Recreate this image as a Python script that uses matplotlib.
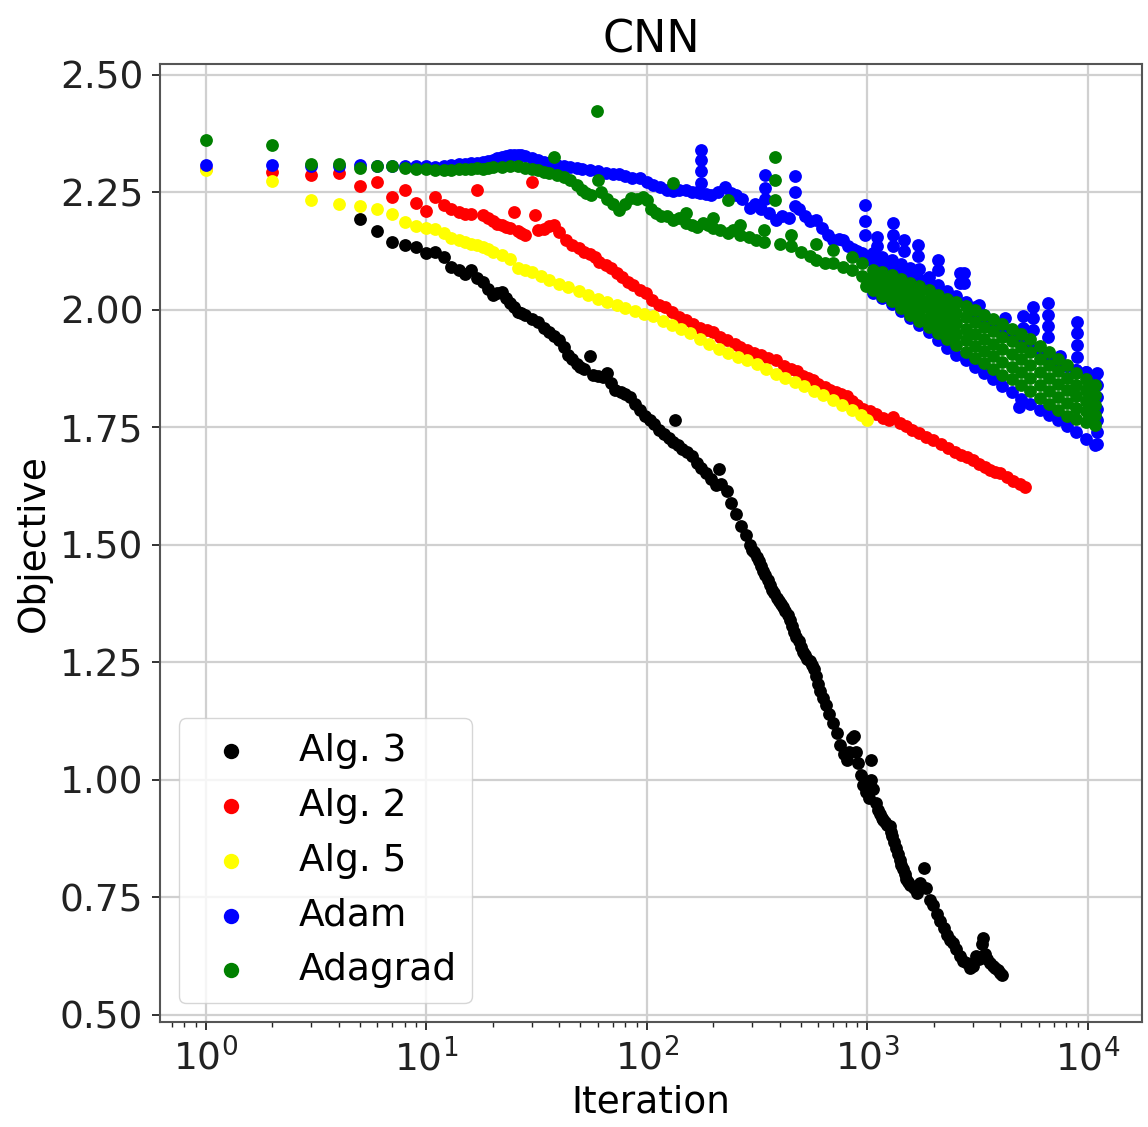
import matplotlib.pyplot as plt

# (iteration, objective) pairs
alg3 = [(5, 2.193), (6, 2.167), (7, 2.145), (8, 2.138), (9, 2.133), (10, 2.121), (11, 2.122),
        (12, 2.113), (13, 2.092), (14, 2.085), (15, 2.077), (16, 2.085), (17, 2.068), (18, 2.060),
        (19, 2.045), (20, 2.032), (21, 2.036), (22, 2.039), (23, 2.025), (24, 2.014), (25, 2.005),
        (26, 1.995), (27, 1.993), (28, 1.990), (30, 1.981), (32, 1.975), (34, 1.962), (36, 1.952),
        (38, 1.945), (40, 1.936), (42, 1.922), (44, 1.905), (46, 1.895), (48, 1.885), (50, 1.879),
        (52, 1.874), (55, 1.901), (57, 1.862), (60, 1.860), (63, 1.858), (66, 1.866), (69, 1.845),
        (72, 1.830), (76, 1.825), (80, 1.820), (84, 1.814), (88, 1.800), (93, 1.787), (98, 1.775),
        (103, 1.766), (108, 1.758), (114, 1.745), (120, 1.735), (126, 1.728), (132, 1.718),
        (134, 1.766), (138, 1.712), (145, 1.704), (152, 1.697), (160, 1.690), (168, 1.675),
        (176, 1.663), (186, 1.652), (196, 1.640), (207, 1.628), (212, 1.662), (218, 1.630),
        (230, 1.614), (242, 1.590), (255, 1.565), (268, 1.540), (281, 1.520), (293, 1.499),
        (300, 1.490), (307, 1.485), (315, 1.475), (322, 1.465), (330, 1.455), (337, 1.445),
        (345, 1.435), (353, 1.425), (362, 1.415), (370, 1.405), (379, 1.397), (388, 1.388),
        (397, 1.381), (406, 1.375), (415, 1.368), (425, 1.360), (435, 1.350), (445, 1.340),
        (455, 1.328), (466, 1.315), (477, 1.305), (488, 1.295), (500, 1.283), (511, 1.272),
        (523, 1.265), (535, 1.258), (548, 1.252), (560, 1.245), (573, 1.235), (586, 1.222),
        (600, 1.205), (613, 1.190), (630, 1.174), (650, 1.160), (672, 1.140), (700, 1.121),
        (725, 1.100), (750, 1.075), (780, 1.055), (805, 1.042), (830, 1.060), (850, 1.090),
        (870, 1.094), (890, 1.060), (910, 1.035), (935, 1.010), (960, 0.990), (990, 0.975),
        (1020, 0.962), (1040, 1.000), (1040, 1.042), (1060, 0.980), (1090, 0.950), (1120, 0.935),
        (1140, 0.928), (1160, 0.920), (1180, 0.915), (1200, 0.910), (1230, 0.905), (1265, 0.901),
        (1280, 0.890), (1300, 0.880), (1325, 0.868), (1350, 0.855), (1375, 0.842), (1400, 0.830),
        (1425, 0.820), (1450, 0.810), (1475, 0.800), (1500, 0.790), (1530, 0.783), (1560, 0.777),
        (1620, 0.770), (1680, 0.760), (1740, 0.780), (1800, 0.813), (1850, 0.770), (1920, 0.745),
        (1988, 0.733), (2060, 0.715), (2140, 0.700), (2220, 0.685), (2300, 0.670), (2380, 0.660),
        (2450, 0.654), (2530, 0.640), (2620, 0.625), (2720, 0.615), (2820, 0.610), (2920, 0.600),
        (3020, 0.605), (3100, 0.625), (3200, 0.620), (3300, 0.650), (3350, 0.663), (3420, 0.630),
        (3500, 0.620), (3600, 0.610), (3700, 0.605), (3800, 0.600), (3900, 0.595), (4000, 0.590),
        (4100, 0.585)]

alg2 = [(1, 2.300), (2, 2.294), (3, 2.287), (4, 2.292), (5, 2.264), (6, 2.271), (7, 2.239),
        (8, 2.254), (9, 2.227), (10, 2.211), (11, 2.239), (12, 2.223), (13, 2.214), (14, 2.209),
        (15, 2.203), (16, 2.204), (17, 2.254), (18, 2.202), (19, 2.195), (20, 2.190), (21, 2.183),
        (22, 2.180), (23, 2.177), (24, 2.174), (25, 2.209), (26, 2.168), (27, 2.163), (28, 2.160),
        (30, 2.273), (31, 2.202), (32, 2.170), (34, 2.172), (36, 2.178), (38, 2.181), (40, 2.165),
        (43, 2.149), (46, 2.138), (49, 2.131), (52, 2.124), (55, 2.118), (58, 2.112), (61, 2.102),
        (65, 2.095), (69, 2.088), (73, 2.078), (77, 2.070), (82, 2.060), (87, 2.053), (93, 2.043),
        (99, 2.035), (106, 2.022), (113, 2.010), (121, 2.005), (130, 1.995), (140, 1.985),
        (150, 1.979), (162, 1.970), (175, 1.962), (188, 1.958), (200, 1.952), (215, 1.942),
        (232, 1.935), (250, 1.928), (265, 1.922), (285, 1.915), (305, 1.908), (330, 1.903),
        (355, 1.898), (386, 1.894), (420, 1.880), (450, 1.875), (478, 1.870), (510, 1.860),
        (540, 1.855), (568, 1.851), (600, 1.843), (640, 1.836), (680, 1.830), (720, 1.825),
        (760, 1.820), (805, 1.816), (850, 1.806), (900, 1.798), (960, 1.790), (1026, 1.784),
        (1100, 1.778), (1180, 1.770), (1260, 1.765), (1310, 1.772), (1400, 1.759), (1500, 1.752),
        (1600, 1.745), (1720, 1.737), (1850, 1.730), (1990, 1.723), (2150, 1.715), (2320, 1.706),
        (2500, 1.698), (2650, 1.692), (2820, 1.688), (3000, 1.680), (3200, 1.672), (3400, 1.665),
        (3600, 1.660), (3800, 1.655), (4000, 1.652), (4300, 1.644), (4600, 1.636), (4900, 1.630),
        (5180, 1.624)]

alg5 = [(1, 2.298), (2, 2.275), (3, 2.234), (4, 2.225), (5, 2.220), (6, 2.215), (7, 2.204),
        (8, 2.186), (9, 2.179), (10, 2.174), (11, 2.172), (12, 2.163), (13, 2.153), (14, 2.149),
        (15, 2.145), (16, 2.141), (17, 2.138), (18, 2.134), (19, 2.130), (20, 2.124), (22, 2.116),
        (24, 2.108), (26, 2.089), (28, 2.085), (30, 2.080), (33, 2.071), (36, 2.064), (40, 2.056),
        (44, 2.048), (49, 2.040), (54, 2.032), (60, 2.023), (66, 2.016), (73, 2.011), (80, 2.004),
        (88, 1.998), (97, 1.991), (107, 1.986), (118, 1.976), (130, 1.967), (143, 1.959),
        (157, 1.950), (174, 1.938), (192, 1.928), (212, 1.917), (234, 1.908), (258, 1.900),
        (285, 1.894), (315, 1.885), (348, 1.874), (384, 1.864), (424, 1.854), (468, 1.846),
        (516, 1.838), (570, 1.828), (630, 1.818), (700, 1.809), (770, 1.798), (850, 1.786),
        (935, 1.776), (1000, 1.766)]

adam = [(1, 2.309), (2, 2.309), (3, 2.305), (4, 2.305), (5, 2.309), (6, 2.306), (7, 2.306),
        (8, 2.305), (9, 2.307), (10, 2.305), (11, 2.304), (12, 2.306), (13, 2.308), (14, 2.310),
        (15, 2.311), (16, 2.312), (17, 2.313), (18, 2.315), (19, 2.316), (20, 2.318), (21, 2.322),
        (22, 2.325), (23, 2.328), (24, 2.330), (25, 2.330), (26, 2.330), (27, 2.329), (28, 2.327),
        (30, 2.322), (32, 2.318), (34, 2.315), (36, 2.312), (39, 2.309), (42, 2.306), (45, 2.304),
        (48, 2.302), (51, 2.300), (55, 2.298), (60, 2.295), (65, 2.292), (70, 2.290), (75, 2.288),
        (80, 2.284), (86, 2.281), (93, 2.280), (100, 2.273), (107, 2.266), (115, 2.262),
        (123, 2.256), (131, 2.252), (140, 2.255), (150, 2.255), (160, 2.250), (168, 2.250),
        (174, 2.248), (176, 2.270), (176, 2.295), (176, 2.318), (176, 2.340), (185, 2.246),
        (196, 2.244), (210, 2.250), (226, 2.262), (240, 2.248), (255, 2.245), (270, 2.235),
        (293, 2.216), (310, 2.225), (330, 2.215), (343, 2.235), (343, 2.260), (343, 2.287),
        (360, 2.205), (386, 2.191), (410, 2.200), (440, 2.195), (469, 2.220), (469, 2.250),
        (469, 2.284), (490, 2.215), (520, 2.200), (550, 2.190), (586, 2.191), (620, 2.175),
        (660, 2.160), (700, 2.149), (740, 2.150), (778, 2.149), (820, 2.135), (860, 2.130),
        (900, 2.125), (945, 2.120), (975, 2.160), (975, 2.190), (975, 2.223), (1000, 2.113),
        (1110, 2.156), (1110, 2.135), (1310, 2.184), (1310, 2.160), (1310, 2.135), (1470, 2.149),
        (1470, 2.125), (1700, 2.138), (1700, 2.115), (2090, 2.106), (2090, 2.085), (2640, 2.078),
        (2640, 2.058), (2750, 2.078), (2750, 2.058), (3220, 2.011), (4200, 1.982), (4860, 1.794),
        (5060, 1.986), (5060, 1.962), (5650, 2.007), (5650, 1.983), (5650, 1.958), (6610, 2.014),
        (6610, 1.990), (6610, 1.966), (6610, 1.942), (7450, 1.901), (8890, 1.975), (8890, 1.950),
        (8890, 1.925), (8890, 1.900), (10950, 1.865), (10950, 1.840), (10950, 1.815),
        (10950, 1.790), (10950, 1.765), (10950, 1.740), (10950, 1.715)]

adagrad = [(1, 2.362), (2, 2.351), (3, 2.311), (4, 2.311), (5, 2.301), (6, 2.305), (7, 2.305),
           (8, 2.301), (9, 2.299), (10, 2.299), (11, 2.297), (12, 2.298), (13, 2.298), (14, 2.300),
           (15, 2.299), (16, 2.300), (17, 2.301), (18, 2.300), (19, 2.302), (20, 2.303),
           (22, 2.304), (24, 2.305), (26, 2.305), (28, 2.302), (30, 2.300), (32, 2.298),
           (34, 2.294), (36, 2.292), (38, 2.325), (39, 2.287), (42, 2.283), (45, 2.276),
           (48, 2.265), (51, 2.255), (53, 2.248), (56, 2.245), (59.5, 2.422), (60, 2.277),
           (62, 2.250), (66, 2.235), (70, 2.225), (75, 2.213), (80, 2.225), (85, 2.238),
           (90, 2.236), (96, 2.241), (100, 2.234), (105, 2.215), (110, 2.206), (116, 2.200),
           (123, 2.199), (131, 2.270), (131, 2.191), (140, 2.195), (150, 2.185), (160, 2.180),
           (168, 2.177), (180, 2.185), (190, 2.180), (200, 2.175), (215, 2.170), (234, 2.234),
           (234, 2.163), (245, 2.170), (265, 2.160), (290, 2.155), (314, 2.149), (340, 2.145),
           (380, 2.234), (380, 2.277), (380, 2.326), (400, 2.140), (450, 2.135), (500, 2.124),
           (550, 2.115), (586, 2.106), (640, 2.100), (700, 2.099), (778, 2.092), (850, 2.085),
           (945, 2.071), (990, 2.050), (150, 2.205), (200, 2.195), (265, 2.180), (340, 2.170),
           (450, 2.160), (586, 2.140), (700, 2.128), (850, 2.112), (945, 2.100)]

# dense tail (>1000 iterations): band read at each position, top to bottom
band_iter = [1063, 1170, 1290, 1420, 1560, 1720, 1900, 2090, 2300, 2530, 2790, 3070, 3380,
             3720, 4100, 4520, 4980, 5480, 6040, 6650, 7320, 8060, 8880, 9780, 10770]
adam_band = [(2.120, 2.102, 2.036), (2.113, 2.095, 2.025), (2.105, 2.088, 2.012),
             (2.097, 2.080, 1.998), (2.090, 2.072, 1.983), (2.086, 2.066, 1.968),
             (2.070, 2.055, 1.952), (2.052, 2.040, 1.935), (2.040, 2.030, 1.918),
             (2.030, 2.020, 1.905), (2.017, 2.010, 1.893), (2.005, 1.998, 1.878),
             (1.990, 1.985, 1.865), (1.970, 1.975, 1.852), (1.962, 1.962, 1.838),
             (1.951, 1.951, 1.826), (1.940, 1.940, 1.810), (1.928, 1.928, 1.800),
             (1.915, 1.915, 1.787), (1.905, 1.905, 1.776), (1.893, 1.893, 1.765),
             (1.880, 1.880, 1.752), (1.872, 1.872, 1.740), (1.868, 1.868, 1.726),
             (1.862, 1.862, 1.712)]
adagrad_band = [(2.085, 2.075, 2.064, 2.053, 2.043), (2.080, 2.068, 2.055, 2.043, 2.030),
                (2.075, 2.061, 2.047, 2.032, 2.018), (2.066, 2.050, 2.035, 2.019, 2.003),
                (2.058, 2.041, 2.024, 2.007, 1.990), (2.050, 2.032, 2.014, 1.995, 1.977),
                (2.042, 2.022, 2.003, 1.983, 1.964), (2.032, 2.012, 1.991, 1.971, 1.950),
                (2.024, 2.002, 1.981, 1.959, 1.937), (2.017, 1.994, 1.971, 1.948, 1.925),
                (2.008, 1.984, 1.960, 1.935, 1.911), (1.999, 1.974, 1.949, 1.923, 1.898),
                (1.990, 1.964, 1.938, 1.912, 1.886), (1.980, 1.954, 1.927, 1.901, 1.874),
                (1.970, 1.943, 1.916, 1.889, 1.862), (1.960, 1.933, 1.906, 1.879, 1.852),
                (1.949, 1.922, 1.895, 1.867, 1.840), (1.937, 1.910, 1.883, 1.855, 1.828),
                (1.923, 1.895, 1.868, 1.840, 1.812), (1.910, 1.882, 1.855, 1.827, 1.799),
                (1.896, 1.869, 1.842, 1.815, 1.788), (1.882, 1.855, 1.829, 1.802, 1.775),
                (1.866, 1.841, 1.817, 1.792, 1.768), (1.852, 1.830, 1.807, 1.785, 1.762),
                (1.840, 1.819, 1.798, 1.776, 1.755)]


def with_band(points, band):
    pts = list(points)
    for it, vals in zip(band_iter, band):
        for v in vals:
            pts.append((it, v))
    return pts


series = [
    ('Alg. 3', alg3, 'black'),
    ('Alg. 2', alg2, 'red'),
    ('Alg. 5', alg5, 'yellow'),
    ('Adam', with_band(adam, adam_band), 'blue'),
    ('Adagrad', with_band(adagrad, adagrad_band), 'green'),
]

plt.rcParams['font.family'] = 'DejaVu Sans'
plt.rcParams['font.size'] = 27

fig = plt.figure(figsize=(11.48, 11.27), dpi=100)
ax = fig.add_axes([160 / 1148, 1 - 1022 / 1127, (1142 - 160) / 1148, (1022 - 64) / 1127])

for label, pts, color in series:
    xs = [p[0] for p in pts]
    ys = [p[1] for p in pts]
    ax.scatter(xs, ys, s=85, color=color, label=label, linewidths=0)

ax.set_xscale('log')
ax.set_xlim(0.62, 17600)
ax.set_ylim(0.485, 2.523)
ax.set_yticks([0.5, 0.75, 1.0, 1.25, 1.5, 1.75, 2.0, 2.25, 2.5])
ax.grid(True, color='#d0d0d0', linewidth=1.6)
ax.set_axisbelow(True)
ax.tick_params(which='major', length=6, width=1.3, pad=6, colors='#222222')
ax.tick_params(which='minor', length=3.5, width=1.0, colors='#222222')
for sp in ax.spines.values():
    sp.set_color('#555555')
    sp.set_linewidth(1.5)

ax.set_title('CNN', fontsize=32, pad=8)
ax.set_xlabel('Iteration', labelpad=4)
ax.set_ylabel('Objective', labelpad=6)
ax.legend(loc='lower left', scatterpoints=1, markerscale=1.2, fontsize=27)

fig.savefig('out.png', dpi=100)
